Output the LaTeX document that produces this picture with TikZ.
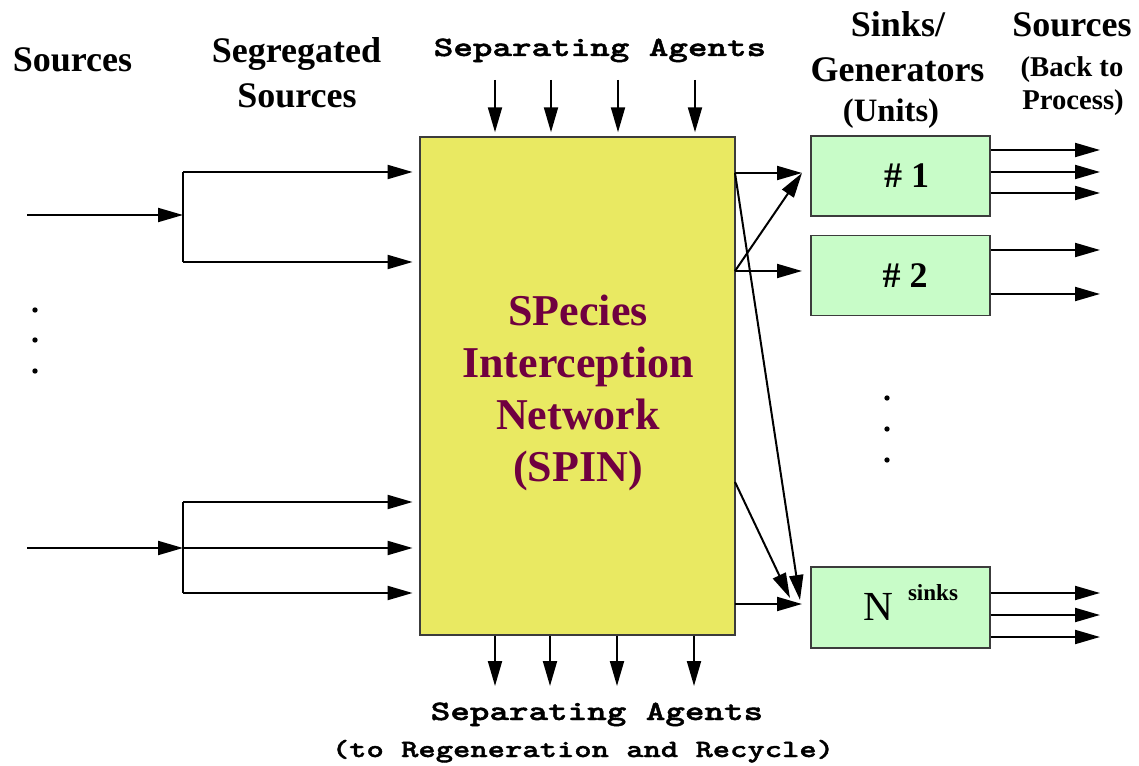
\documentclass[tikz,border=0pt]{standalone}
\usepackage{fontspec}
\usepackage{graphicx}
\setmainfont{Liberation Serif}
\newfontfamily\agentfont{lmmonolt10-bold.otf}[FakeBold=1.6,FakeStretch=1.33]
\usetikzlibrary{arrows.meta,calc}
\definecolor{spinyellow}{RGB}{233,233,98}
\definecolor{sinkgreen}{RGB}{200,252,200}
\definecolor{spintext}{RGB}{112,0,64}
\definecolor{boxedge}{RGB}{60,60,60}
\newcommand{\agenttext}[1]{{\agentfont #1}}
\begin{document}
\begin{tikzpicture}[x=0.75pt,y=-0.75pt,
  wire/.style={line width=1.5pt},
  arr/.style={wire,-{Triangle[length=18.75pt,width=10.5pt]}},
  biglab/.style={font=\bfseries\fontsize{27pt}{30pt}\selectfont,anchor=base,inner sep=0pt},
  midlab/.style={font=\bfseries\fontsize{24.5pt}{28pt}\selectfont,anchor=base,inner sep=0pt},
  smalllab/.style={font=\bfseries\fontsize{21.5pt}{25pt}\selectfont,anchor=base,inner sep=0pt},
  agentlab/.style={font=\fontsize{21pt}{24pt}\selectfont,anchor=base,inner sep=0pt},
  agentsub/.style={font=\fontsize{18.6pt}{22pt}\selectfont,anchor=base,inner sep=0pt},
  spinbox/.style={draw=boxedge,line width=1.1pt,fill=spinyellow,minimum width=236.25pt,minimum height=373.5pt,inner sep=0pt},
  sinkbox/.style={draw=boxedge,line width=1.1pt,fill=sinkgreen,minimum width=134.25pt,minimum height=60pt,inner sep=0pt,font=\bfseries\fontsize{27pt}{30pt}\selectfont},
  dot/.style={fill=black}
]
\useasboundingbox (0,0) rectangle (1139,766);

% main boxes
\node[spinbox] (spin) at (577.5,386) {};
\node[font=\bfseries\fontsize{33pt}{39pt}\selectfont,text=spintext,align=center,inner sep=0pt] (spintxt) at (578,392.5) {SPecies\\Interception\\Network\\(SPIN)};

\node[sinkbox] (sink1) at (900.5,176) {\hspace*{9pt}\# 1};
\node[sinkbox] (sink2) at (900.5,275.5) {\hspace*{7pt}\# 2};
\node[sinkbox,minimum height=60.75pt] (sinkN) at (900.5,607.5) {};
\node[font=\fontsize{31pt}{34pt}\selectfont,anchor=base,inner sep=0pt] (nlab) at (878,620) {N};
\node[font=\bfseries\fontsize{17.3pt}{20pt}\selectfont,anchor=base,inner sep=0pt] (nsup) at (933,600) {sinks};

% labels
\node[biglab] (srcL) at (72.5,72) {Sources};
\node[biglab] (seg1) at (296.5,63) {Segregated};
\node[biglab] (seg2) at (297,108) {Sources};
\node[biglab] (snk1) at (898,37) {Sinks/};
\node[biglab] (snk2) at (897.5,82) {Generators};
\node[midlab] (units) at (891,122) {(Units)};
\node[biglab] (srcR) at (1072,37) {Sources};
\node[smalllab] (back1) at (1072,77) {(Back to};
\node[smalllab] (back2) at (1073,110) {Process)};

\node[agentlab] (agTop) at (600,56) {\agenttext{Separating Agents}};
\node[agentlab] (agBot) at (597,720) {\agenttext{Separating Agents}};
\node[agentsub] (agSub) at (583,757) {\agenttext{(to Regeneration and Recycle)}};

% left source group A
\coordinate (inA) at (27,215);
\coordinate (jA) at (183,215);
\coordinate (jAt) at (183,172);
\coordinate (jAb) at (183,262);
\draw[arr] (inA) -- (jA);
\draw[wire] (jAt) -- (jAb);
\draw[arr,shorten >=5pt] (jAt) -- (jAt -| spin.west);
\draw[arr,shorten >=5pt] (jAb) -- (jAb -| spin.west);

% left source group B
\coordinate (inB) at (27,548);
\coordinate (jB) at (183,548);
\coordinate (jBt) at (183,502);
\coordinate (jBb) at (183,593);
\draw[arr] (inB) -- (jB);
\draw[wire] (jBt) -- (jBb);
\draw[arr,shorten >=5pt] (jBt) -- (jBt -| spin.west);
\draw[arr,shorten >=5pt] (jB) -- (jB -| spin.west);
\draw[arr,shorten >=5pt] (jBb) -- (jBb -| spin.west);

% dots
\fill[dot] (35,310) circle[radius=2pt];
\fill[dot] (35,340) circle[radius=2pt];
\fill[dot] (35,371) circle[radius=2pt];
\fill[dot] (887,398) circle[radius=2pt];
\fill[dot] (887,429) circle[radius=2pt];
\fill[dot] (887,460) circle[radius=2pt];

% separating agents in
\foreach \i/\xx in {1/495,2/551,3/618,4/695}{
  \coordinate (t\i) at (\xx,80);
  \draw[arr,shorten >=3pt] (t\i) -- (t\i |- spin.north);
}
% separating agents out
\foreach \i/\xx in {1/495,2/550,3/617,4/694}{
  \coordinate (b\i) at (\xx,686);
  \draw[arr] (b\i |- spin.south) -- (b\i);
}

% SPIN to sinks
\coordinate (o1) at (735,173);
\coordinate (o2) at (735,271);
\coordinate (o3) at (735,482);
\coordinate (o4) at (735,604);
\coordinate (e1) at (802,173);
\coordinate (e2) at (802,271);
\coordinate (eN1) at (800,600);
\coordinate (eN2) at (790,598);
\coordinate (eN3) at (802,604);
\draw[arr] (o1) -- (e1);
\draw[arr] (o1) -- (eN1);
\draw[arr] (o2) -- (e2);
\draw[arr] (o2) -- (e1);
\draw[arr] (o3) -- (eN2);
\draw[arr] (o4) -- (eN3);

% sinks outputs
\foreach \i/\yy in {1/150,2/172,3/193}{
  \coordinate (r1\i) at (1100,\yy);
  \draw[arr] (sink1.east |- r1\i) -- (r1\i);
}
\foreach \i/\yy in {1/250,2/294}{
  \coordinate (r2\i) at (1100,\yy);
  \draw[arr] (sink2.east |- r2\i) -- (r2\i);
}
\foreach \i/\yy in {1/593,2/615,3/637}{
  \coordinate (rN\i) at (1100,\yy);
  \draw[arr] (sinkN.east |- rN\i) -- (rN\i);
}
\end{tikzpicture}
\end{document}
